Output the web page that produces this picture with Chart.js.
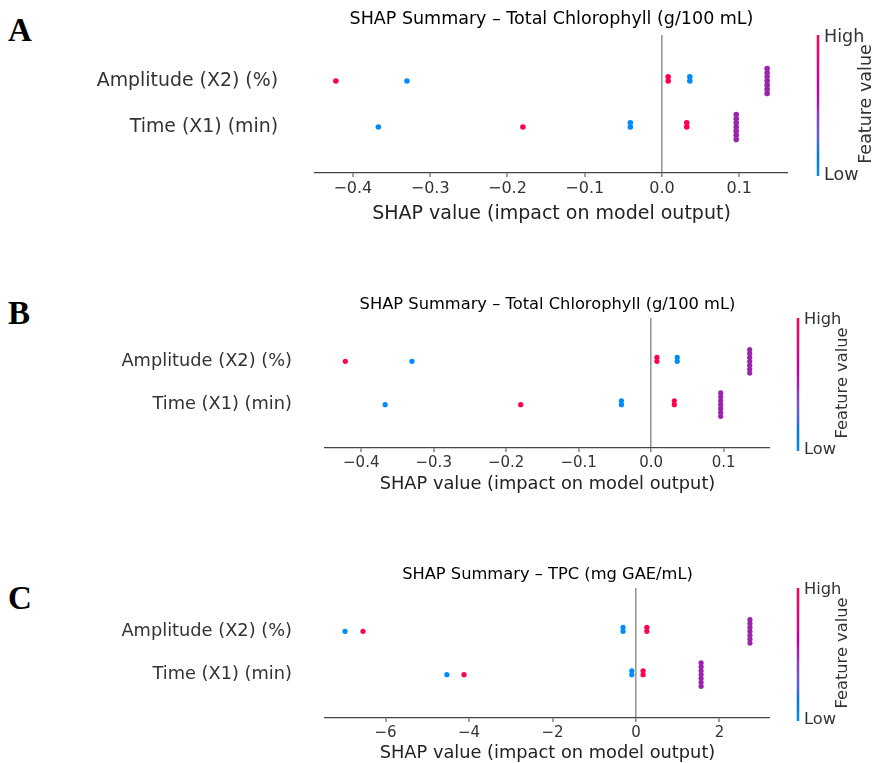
<!DOCTYPE html>
<html>
<head>
<meta charset="utf-8">
<script src="https://cdn.jsdelivr.net/npm/chart.js@4/dist/chart.umd.min.js"></script>
<style>
  html, body { margin: 0; padding: 0; background: #fff; }
  body { width: 873px; height: 763px; position: relative; overflow: hidden; }
  .panel { position: absolute; left: 0; width: 873px; }
  .letter { position: absolute; font-family: "Liberation Serif", "Times New Roman", serif; font-weight: bold; font-size: 33px; line-height: 1; color: #000; }
</style>
</head>
<body>
<div class="letter" style="left:8px;top:14px">A</div>
<div class="letter" style="left:8px;top:297px">B</div>
<div class="letter" style="left:8px;top:582px">C</div>

<div class="panel" style="top:0;height:250px"><canvas id="cA" width="873" height="250"></canvas></div>
<div class="panel" style="top:275px;height:250px"><canvas id="cB" width="873" height="250"></canvas></div>
<div class="panel" style="top:545px;height:218px"><canvas id="cC" width="873" height="218"></canvas></div>

<script>
// ---------------- DATA ----------------
// feature rows (y index 0 = bottom row, 1 = top row)
const featureNames = ["Time (X1) (min)", "Amplitude (X2) (%)"];

// Total Chlorophyll (g/100 mL) – SHAP values per sample (panels A and B)
const chlAmplitudeShap  = [-0.422, -0.330, 0.008, 0.008, 0.036, 0.036, 0.136, 0.136, 0.136, 0.136, 0.136, 0.136, 0.136];
const chlAmplitudeLevel = [1, 0, 1, 1, 0, 0, 0.5, 0.5, 0.5, 0.5, 0.5, 0.5, 0.5];
const chlTimeShap       = [-0.367, -0.180, -0.041, -0.041, 0.032, 0.032, 0.096, 0.096, 0.096, 0.096, 0.096, 0.096, 0.096];
const chlTimeLevel      = [0, 1, 0, 0, 1, 1, 0.5, 0.5, 0.5, 0.5, 0.5, 0.5, 0.5];

// TPC (mg GAE/mL) – SHAP values per sample (panel C)
const tpcAmplitudeShap  = [-6.97, -6.54, -0.31, -0.31, 0.26, 0.26, 2.73, 2.73, 2.73, 2.73, 2.73, 2.73, 2.73];
const tpcAmplitudeLevel = [0, 1, 0, 0, 1, 1, 0.5, 0.5, 0.5, 0.5, 0.5, 0.5, 0.5];
const tpcTimeShap       = [-4.53, -4.12, -0.10, -0.10, 0.17, 0.17, 1.56, 1.56, 1.56, 1.56, 1.56, 1.56, 1.56];
const tpcTimeLevel      = [0, 1, 0, 0, 1, 1, 0.5, 0.5, 0.5, 0.5, 0.5, 0.5, 0.5];

// tick labels
const chlTicks = [-0.4, -0.3, -0.2, -0.1, 0.0, 0.1];
const tpcTicks = [-6, -4, -2, 0, 2];

const chlTitle = "SHAP Summary – Total Chlorophyll (g/100 mL)";
const tpcTitle = "SHAP Summary – TPC (mg GAE/mL)";
const xAxisLabel = "SHAP value (impact on model output)";

// ---------------- HELPERS ----------------
function lch2rgb(L, C, h) {
  const a = C * Math.cos(h), b = C * Math.sin(h);
  const fy = (L + 16) / 116, fx = fy + a / 500, fz = fy - b / 200;
  const f = t => (t * t * t > 0.008856 ? t * t * t : (t - 16 / 116) / 7.787);
  const X = 0.95047 * f(fx), Y = f(fy), Z = 1.08883 * f(fz);
  const r = 3.2406 * X - 1.5372 * Y - 0.4986 * Z;
  const g = -0.9689 * X + 1.8758 * Y + 0.0415 * Z;
  const bl = 0.0557 * X - 0.2040 * Y + 1.0570 * Z;
  const gam = c => { c = c <= 0.0031308 ? 12.92 * c : 1.055 * Math.pow(Math.max(c, 0), 1 / 2.4) - 0.055; return Math.round(Math.max(0, Math.min(1, c)) * 255); };
  return `rgb(${gam(r)},${gam(g)},${gam(bl)})`;
}
// SHAP red_blue colormap (blue = low, red = high)
function redBlue(t) {
  const L = t < 0.5 ? 54 + (40 - 54) * t / 0.5 : 40 + (54 - 40) * (t - 0.5) / 0.5;
  const C = 70 + 20 * t;
  const h = 4.6588 + (0.35470565 + 2 * Math.PI - 4.6588) * t;
  return lch2rgb(L, C, h);
}
// SHAP beeswarm vertical layering
function swarm(vals, nbins = 100, rowHeight = 0.4) {
  const mn = Math.min(...vals), mx = Math.max(...vals);
  const quant = vals.map(v => Math.round(nbins * (v - mn) / (mx - mn)));
  const inds = vals.map((_, i) => i).sort((a, b) => quant[a] - quant[b] || a - b);
  const ys = new Array(vals.length).fill(0);
  let layer = 0, last = -1;
  for (const i of inds) {
    if (quant[i] !== last) layer = 0;
    ys[i] = Math.ceil(layer / 2) * ((layer % 2) * 2 - 1);
    layer++; last = quant[i];
  }
  const m = Math.max(...ys.map(y => y + 1));
  return ys.map(y => y * 0.9 * rowHeight / m);
}
function rowDataset(shap, level, row, radius) {
  const off = swarm(shap);
  return {
    data: shap.map((v, i) => ({ x: v, y: row + off[i] })),
    backgroundColor: level.map(redBlue),
    pointRadius: radius,
    pointBorderWidth: 0,
    pointHoverRadius: radius
  };
}
const fmt = (v, dec) => v.toFixed(dec).replace('-', '\u2212');
const noPad = s => { s.paddingTop = 0; s.paddingBottom = 0; s.paddingLeft = 0; s.paddingRight = 0; };

const decor = {
  id: 'decor',
  afterDraw(chart, args, o) {
    const { ctx, chartArea: ca } = chart;
    const cx = (ca.left + ca.right) / 2;
    ctx.save();
    ctx.textAlign = 'center';
    ctx.textBaseline = 'middle';
    ctx.fillStyle = '#000';
    ctx.font = `${o.titleSize}px "DejaVu Sans"`;
    ctx.fillText(o.title, cx, o.titleY);
    ctx.fillStyle = '#222';
    ctx.font = `${o.labelSize}px "DejaVu Sans"`;
    ctx.fillText(xAxisLabel, cx, o.xLabelY);
    // colour bar
    const x = ca.right + o.cbarGap;
    const grad = ctx.createLinearGradient(0, ca.bottom + 3, 0, ca.top);
    for (let i = 0; i <= 20; i++) grad.addColorStop(i / 20, redBlue(i / 20));
    ctx.fillStyle = grad;
    ctx.fillRect(x - o.cbarW / 2, ca.top, o.cbarW, ca.bottom - ca.top + 3);
    ctx.fillStyle = '#333';
    ctx.textAlign = 'left';
    ctx.font = `${o.cbarSize}px "DejaVu Sans"`;
    ctx.fillText('High', x + 6, ca.top + 2);
    ctx.fillText('Low', x + 6, ca.bottom + 2);
    ctx.translate(x + o.fvOffset, (ca.top + ca.bottom) / 2);
    ctx.rotate(-Math.PI / 2);
    ctx.textAlign = 'center';
    ctx.fillText('Feature value', 0, 0);
    ctx.restore();
  }
};

function makeChart(id, cfg) {
  const canvas = document.getElementById(id);
  const H = canvas.height;
  return new Chart(canvas, {
    type: 'scatter',
    data: {
      datasets: [
        rowDataset(cfg.ampShap, cfg.ampLevel, 1, cfg.radius),
        rowDataset(cfg.timeShap, cfg.timeLevel, 0, cfg.radius)
      ]
    },
    options: {
      responsive: false,
      devicePixelRatio: 1,
      animation: false,
      events: [],
      layout: { padding: { left: 0, top: cfg.top, right: 873 - cfg.right, bottom: 0 } },
      plugins: {
        legend: { display: false },
        tooltip: { enabled: false },
        title: { display: false },
        decor: {
          title: cfg.title, titleSize: cfg.titleSize, titleY: cfg.titleY,
          labelSize: cfg.labelSize, xLabelY: cfg.xLabelY,
          cbarGap: cfg.cbarGap, cbarW: 2.5, cbarSize: cfg.cbarSize, fvOffset: cfg.fvOffset
        }
      },
      scales: {
        x: {
          type: 'linear',
          min: cfg.xmin, max: cfg.xmax,
          afterBuildTicks: s => { s.ticks = cfg.ticks.map(v => ({ value: v })); },
          afterFit: s => { s.height = H - cfg.bottom; noPad(s); },
          border: { display: true, color: '#444', width: 1.3 },
          grid: {
            display: true,
            drawOnChartArea: true,
            drawTicks: true,
            tickLength: 4,
            tickColor: '#444',
            tickWidth: 1,
            color: c => (c.tick && c.tick.value === 0 ? '#999999' : 'rgba(0,0,0,0)'),
            lineWidth: c => (c.tick && c.tick.value === 0 ? 1.6 : 0)
          },
          ticks: {
            padding: 2,
            color: '#333',
            font: { family: 'DejaVu Sans', size: cfg.xTickSize },
            maxRotation: 0,
            autoSkip: false,
            callback: v => fmt(v, cfg.dec)
          }
        },
        y: {
          type: 'linear',
          min: -1, max: 2,
          afterBuildTicks: s => { s.ticks = featureNames.map((n, i) => ({ value: i })); },
          afterFit: s => { s.width = cfg.left; noPad(s); },
          border: { display: false },
          grid: { display: false, drawTicks: false },
          ticks: {
            padding: cfg.yPad,
            color: '#333',
            font: { family: 'DejaVu Sans', size: cfg.yTickSize },
            callback: v => featureNames[v]
          }
        }
      }
    },
    plugins: [decor]
  });
}

makeChart('cA', {
  ampShap: chlAmplitudeShap, ampLevel: chlAmplitudeLevel, timeShap: chlTimeShap, timeLevel: chlTimeLevel,
  ticks: chlTicks, dec: 1, xmin: -0.449, xmax: 0.163,
  left: 315, right: 788, top: 35, bottom: 173, radius: 2.8,
  title: chlTitle, titleSize: 17.5, titleY: 19, labelSize: 19, xLabelY: 214,
  xTickSize: 16, yTickSize: 18.9, yPad: 37, cbarGap: 30, cbarSize: 17.5, fvOffset: 48
});
makeChart('cB', {
  ampShap: chlAmplitudeShap, ampLevel: chlAmplitudeLevel, timeShap: chlTimeShap, timeLevel: chlTimeLevel,
  ticks: chlTicks, dec: 1, xmin: -0.450, xmax: 0.164,
  left: 325, right: 770, top: 43, bottom: 173, radius: 2.6,
  title: chlTitle, titleSize: 16.3, titleY: 30, labelSize: 17.8, xLabelY: 209,
  xTickSize: 15, yTickSize: 17.8, yPad: 33, cbarGap: 28, cbarSize: 16.3, fvOffset: 45
});
makeChart('cC', {
  ampShap: tpcAmplitudeShap, ampLevel: tpcAmplitudeLevel, timeShap: tpcTimeShap, timeLevel: tpcTimeLevel,
  ticks: tpcTicks, dec: 0, xmin: -7.45, xmax: 3.21,
  left: 325, right: 770, top: 43, bottom: 173, radius: 2.6,
  title: tpcTitle, titleSize: 16.3, titleY: 30, labelSize: 17.8, xLabelY: 208,
  xTickSize: 15, yTickSize: 17.8, yPad: 33, cbarGap: 28, cbarSize: 16.3, fvOffset: 45
});
</script>
</body>
</html>
